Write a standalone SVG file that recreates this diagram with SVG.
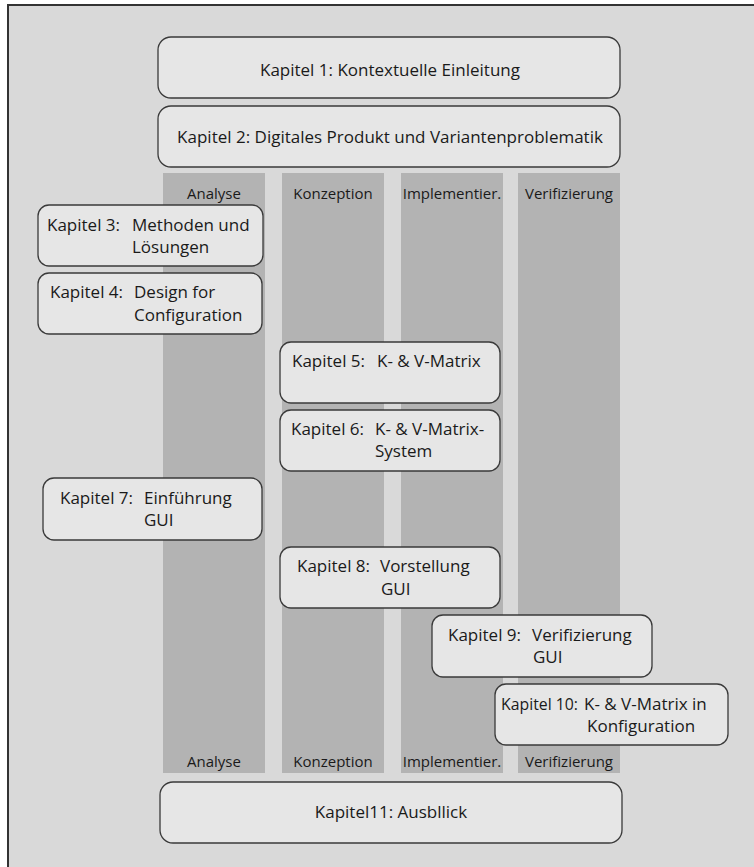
<svg xmlns="http://www.w3.org/2000/svg" width="754" height="867" viewBox="0 0 754 867">
  <style>
    .frame { fill: #d9d9d9; stroke: #333333; stroke-width: 2; }
    .lane { fill: #b3b3b3; }
    .box { fill: #e6e6e6; stroke: #3a3a3a; stroke-width: 1.3; }
    text { font-family: "Open Sans", "Noto Sans", sans-serif; fill: #1a1a1a; }
    .t { font-size: 17px; }
    .c { text-anchor: middle; }
    .lbl { font-size: 15px; text-anchor: middle; }
  </style>

  <rect width="754" height="867" fill="#ffffff"/>
  <rect class="frame" x="8" y="5" width="770" height="890"/>

  <!-- phase lanes -->
  <g id="lanes">
    <rect class="lane" x="163" y="173" width="102" height="600"/>
    <rect class="lane" x="282" y="173" width="102" height="600"/>
    <rect class="lane" x="401" y="173" width="102" height="600"/>
    <rect class="lane" x="518" y="173" width="102" height="600"/>
    <text class="lbl" x="214" y="199">Analyse</text>
    <text class="lbl" x="333" y="199">Konzeption</text>
    <text class="lbl" x="452" y="199">Implementier.</text>
    <text class="lbl" x="569" y="199">Verifizierung</text>
    <text class="lbl" x="214" y="767">Analyse</text>
    <text class="lbl" x="333" y="767">Konzeption</text>
    <text class="lbl" x="452" y="767">Implementier.</text>
    <text class="lbl" x="569" y="767">Verifizierung</text>
  </g>

  <g id="connectors"></g>

  <g id="k1">
    <rect class="box" x="158" y="37" width="462" height="61" rx="13"/>
    <text class="t c" x="390" y="76">Kapitel 1: Kontextuelle Einleitung</text>
  </g>
  <g id="k2">
    <rect class="box" x="158" y="106" width="462" height="61" rx="13"/>
    <text class="t c" x="390" y="143">Kapitel 2: Digitales Produkt und Variantenproblematik</text>
  </g>
  <g id="k3">
    <rect class="box" x="38" y="205" width="225" height="61" rx="11"/>
    <text class="t" x="47" y="231">Kapitel 3:</text>
    <text class="t" x="132" y="231">Methoden und</text>
    <text class="t" x="132" y="253">Lösungen</text>
  </g>
  <g id="k4">
    <rect class="box" x="38" y="273" width="224" height="61" rx="11"/>
    <text class="t" x="50" y="298">Kapitel 4:</text>
    <text class="t" x="134" y="298">Design for</text>
    <text class="t" x="134" y="321">Configuration</text>
  </g>
  <g id="k5">
    <rect class="box" x="280" y="342" width="220" height="61" rx="11"/>
    <text class="t" x="292" y="367">Kapitel 5:</text>
    <text class="t" x="377" y="367">K- &amp; V-Matrix</text>
  </g>
  <g id="k6">
    <rect class="box" x="280" y="410" width="220" height="61" rx="11"/>
    <text class="t" x="291" y="435">Kapitel 6:</text>
    <text class="t" x="375" y="435">K- &amp; V-Matrix-</text>
    <text class="t" x="375" y="457">System</text>
  </g>
  <g id="k7">
    <rect class="box" x="43" y="478" width="219" height="62" rx="11"/>
    <text class="t" x="60" y="504">Kapitel 7:</text>
    <text class="t" x="144" y="504">Einführung</text>
    <text class="t" x="144" y="526">GUI</text>
  </g>
  <g id="k8">
    <rect class="box" x="280" y="547" width="220" height="61" rx="11"/>
    <text class="t" x="297" y="572">Kapitel 8:</text>
    <text class="t" x="380" y="572">Vorstellung</text>
    <text class="t" x="381" y="595">GUI</text>
  </g>
  <g id="k9">
    <rect class="box" x="432" y="615" width="220" height="62" rx="11"/>
    <text class="t" x="448" y="641">Kapitel 9:</text>
    <text class="t" x="532" y="641">Verifizierung</text>
    <text class="t" x="533" y="663">GUI</text>
  </g>
  <g id="k10">
    <rect class="box" x="495" y="684" width="233" height="61" rx="11"/>
    <text class="t" x="501" y="710" textLength="77" lengthAdjust="spacingAndGlyphs">Kapitel 10:</text>
    <text class="t" x="584" y="710">K- &amp; V-Matrix in</text>
    <text class="t" x="587" y="732">Konfiguration</text>
  </g>
  <g id="k11">
    <rect class="box" x="160" y="782" width="462" height="61" rx="13"/>
    <text class="t c" x="391" y="818">Kapitel11: Ausbllick</text>
  </g>
</svg>
